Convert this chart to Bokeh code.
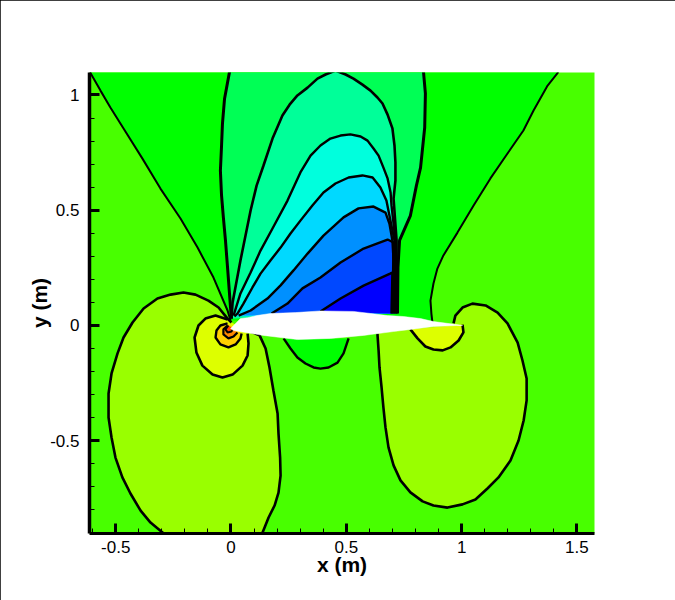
from bokeh.plotting import figure
from bokeh.models import FixedTicker
from bokeh.embed import file_html
from bokeh.resources import INLINE

x_major = [-0.5, 0, 0.5, 1, 1.5]
x_labels = ["-0.5", "0", "0.5", "1", "1.5"]
y_major = [-0.5, 0, 0.5, 1]
y_labels = ["-0.5", "0", "0.5", "1"]

green_left_x = [-0.612, -0.566, -0.523, -0.466, -0.384, -0.306, -0.219, -0.145, -0.076, -0.015, -0.002]
green_left_y = [1.100, 1.019, 0.946, 0.855, 0.724, 0.594, 0.464, 0.338, 0.208, 0.065, 0.022]
green_right_x = [0.875, 0.869, 0.865, 0.878, 0.895, 0.921, 0.982, 1.052, 1.125, 1.199, 1.268, 1.312, 1.373, 1.420]
green_right_y = [0.000, 0.052, 0.108, 0.182, 0.247, 0.304, 0.403, 0.521, 0.638, 0.746, 0.846, 0.933, 1.041, 1.100]

d1_x = [0.002, -0.002, -0.015, -0.024, -0.033, -0.041, -0.046, -0.041, -0.037, -0.028, -0.007, -0.005, 0.836, 0.835, 0.843, 0.840, 0.822, 0.804, 0.778, 0.731, 0.724, 0.722]
d1_y = [0.030, 0.078, 0.252, 0.369, 0.468, 0.564, 0.672, 0.780, 0.876, 0.984, 1.097, 1.110, 1.110, 1.097, 1.006, 0.859, 0.685, 0.607, 0.477, 0.369, 0.252, 0.052]
d2_x = [0.002, 0.007, 0.041, 0.085, 0.111, 0.141, 0.180, 0.223, 0.254, 0.288, 0.332, 0.375, 0.410, 0.453, 0.497, 0.531, 0.570, 0.605, 0.635, 0.657, 0.679, 0.700, 0.709, 0.713, 0.713, 0.705, 0.718, 0.718]
d2_y = [0.030, 0.100, 0.282, 0.499, 0.607, 0.694, 0.811, 0.911, 0.958, 0.998, 1.032, 1.071, 1.089, 1.106, 1.089, 1.071, 1.045, 1.019, 0.989, 0.963, 0.915, 0.855, 0.781, 0.707, 0.629, 0.551, 0.369, 0.052]
d3_x = [0.011, 0.041, 0.085, 0.128, 0.180, 0.245, 0.301, 0.345, 0.388, 0.431, 0.475, 0.518, 0.562, 0.592, 0.618, 0.640, 0.661, 0.679, 0.692, 0.696, 0.713, 0.713]
d3_y = [0.043, 0.139, 0.230, 0.325, 0.421, 0.542, 0.664, 0.737, 0.781, 0.811, 0.824, 0.829, 0.820, 0.802, 0.768, 0.737, 0.685, 0.638, 0.577, 0.521, 0.369, 0.052]
d4_x = [0.015, 0.028, 0.054, 0.093, 0.128, 0.171, 0.215, 0.258, 0.301, 0.353, 0.401, 0.453, 0.510, 0.570, 0.614, 0.648, 0.674, 0.687, 0.709, 0.709]
d4_y = [0.039, 0.052, 0.095, 0.165, 0.225, 0.282, 0.338, 0.399, 0.455, 0.521, 0.577, 0.616, 0.642, 0.651, 0.642, 0.599, 0.542, 0.477, 0.369, 0.052]
d5_x = [0.033, 0.085, 0.158, 0.215, 0.271, 0.332, 0.401, 0.488, 0.553, 0.618, 0.670, 0.687, 0.700, 0.705, 0.705]
d5_y = [0.043, 0.065, 0.117, 0.174, 0.239, 0.312, 0.390, 0.469, 0.508, 0.516, 0.490, 0.442, 0.369, 0.282, 0.052]
d6_x = [0.176, 0.245, 0.310, 0.388, 0.475, 0.575, 0.679, 0.705, 0.700]
d6_y = [0.052, 0.095, 0.161, 0.208, 0.273, 0.334, 0.373, 0.360, 0.052]
d7_x = [0.388, 0.475, 0.575, 0.690, 0.700, 0.696]
d7_y = [0.061, 0.117, 0.173, 0.225, 0.230, 0.052]

bulb_left_x = [0.002, -0.015, -0.054, -0.098, -0.154, -0.206, -0.262, -0.319, -0.379, -0.427, -0.466, -0.492, -0.518, -0.531, -0.531, -0.518, -0.501, -0.471, -0.436, -0.392, -0.349, -0.297, -0.275, 0.115, 0.137, 0.163, 0.189, 0.206, 0.215, 0.213, 0.206, 0.202, 0.184, 0.167, 0.150, 0.124, 0.085]
bulb_left_y = [0.013, 0.030, 0.078, 0.108, 0.134, 0.143, 0.134, 0.117, 0.074, 0.013, -0.052, -0.121, -0.208, -0.295, -0.399, -0.486, -0.573, -0.659, -0.729, -0.803, -0.855, -0.898, -0.920, -0.920, -0.898, -0.833, -0.781, -0.725, -0.651, -0.573, -0.469, -0.382, -0.282, -0.182, -0.100, -0.043, -0.026]
bulb_right_x = [0.635, 0.640, 0.644, 0.653, 0.661, 0.670, 0.683, 0.705, 0.735, 0.778, 0.831, 0.878, 0.939, 1.004, 1.060, 1.112, 1.160, 1.212, 1.247, 1.269, 1.282, 1.282, 1.264, 1.243, 1.199, 1.156, 1.104, 1.047, 1.004, 0.973, 0.965]
bulb_right_y = [-0.035, -0.108, -0.182, -0.269, -0.356, -0.442, -0.529, -0.607, -0.672, -0.724, -0.763, -0.781, -0.790, -0.776, -0.755, -0.707, -0.659, -0.586, -0.499, -0.412, -0.325, -0.230, -0.152, -0.074, 0.009, 0.056, 0.087, 0.095, 0.078, 0.043, 0.009]
te_x = [0.778, 0.809, 0.843, 0.878, 0.918, 0.952, 0.987, 1.008, 1.004]
te_y = [-0.017, -0.056, -0.091, -0.104, -0.108, -0.095, -0.065, -0.030, 0.004]
le2_x = [-0.015, -0.067, -0.111, -0.141, -0.158, -0.150, -0.124, -0.080, -0.037, 0.007, 0.050, 0.072, 0.076, 0.072]
le2_y = [0.026, 0.043, 0.030, 0.000, -0.052, -0.117, -0.174, -0.213, -0.226, -0.213, -0.174, -0.130, -0.078, -0.035]
le3_x = [-0.015, -0.046, -0.063, -0.067, -0.046, -0.011, 0.020, 0.041, 0.046]
le3_y = [0.009, 0.000, -0.022, -0.052, -0.082, -0.095, -0.082, -0.056, -0.035]
le4_x = [-0.015, -0.033, -0.033, -0.011, 0.011, 0.028]
le4_y = [0.000, -0.017, -0.039, -0.056, -0.048, -0.030]
le5_x = [-0.011, -0.024, -0.015, 0.002, 0.011]
le5_y = [0.000, -0.017, -0.030, -0.026, -0.013]
bump_x = [0.228, 0.258, 0.288, 0.323, 0.358, 0.388, 0.423, 0.462, 0.488, 0.510]
bump_y = [-0.056, -0.100, -0.139, -0.165, -0.182, -0.187, -0.182, -0.161, -0.121, -0.056]

wing_x = [-0.002, 0.024, 0.041, 0.072, 0.111, 0.171, 0.280, 0.388, 0.531, 0.605, 0.679, 0.748, 0.822, 0.878, 0.978, 1.004,
          0.978, 0.878, 0.778, 0.705, 0.605, 0.575, 0.431, 0.288, 0.141, 0.063, 0.011]
wing_y = [-0.013, 0.013, 0.030, 0.034, 0.043, 0.052, 0.056, 0.063, 0.061, 0.052, 0.043, 0.039, 0.030, 0.017, 0.004, 0.000,
          0.000, -0.004, -0.017, -0.026, -0.039, -0.043, -0.056, -0.061, -0.043, -0.030, -0.022]

p = figure(width=675, height=600, output_backend="svg", toolbar_location=None,
           x_range=(-0.6136, 1.5763), y_range=(-0.9024, 1.0976),
           min_border_left=89, min_border_top=72, min_border_right=81, min_border_bottom=67,
           background_fill_color="#48ff00", border_fill_color="white",
           outline_line_color=None, x_axis_label="x (m)", y_axis_label="y (m)",
           styles={"position": "absolute", "left": "0", "top": "0",
                   "outline": "1px solid black", "outline-offset": "-1px"})
p.grid.visible = False

green_x = green_left_x + green_right_x
green_y = green_left_y + green_right_y
fills = [
    (green_x, green_y, "#00ff00"),
    (d1_x, d1_y, "#00ff55"),
    (d2_x, d2_y, "#00ff99"),
    (d3_x, d3_y, "#00ffdd"),
    (d4_x, d4_y, "#00d9ff"),
    (d5_x, d5_y, "#0090ff"),
    (d6_x, d6_y, "#0048ff"),
    (d7_x, d7_y, "#0000ff"),
    (bump_x, bump_y, "#00ff00"),
    (bulb_left_x, bulb_left_y, "#99ff00"),
    (bulb_right_x, bulb_right_y, "#99ff00"),
    (te_x, te_y, "#ddff00"),
    (le2_x, le2_y, "#ddff00"),
    (le3_x, le3_y, "#ffd000"),
    (le4_x, le4_y, "#ff8800"),
    (le5_x, le5_y, "#ff4400"),
]
for fx, fy, c in fills:
    p.patch(fx, fy, fill_color=c, line_color=None)

lines = [
    (green_left_x, green_left_y, 2),
    (green_right_x, green_right_y, 2),
    (d1_x, d1_y, 3),
    (d2_x, d2_y, 2.6),
    (d3_x, d3_y, 2.4),
    (d4_x, d4_y, 2.4),
    (d5_x, d5_y, 2.4),
    (d6_x, d6_y, 2.4),
    (d7_x, d7_y, 2.4),
    (bump_x, bump_y, 2.4),
    (bulb_left_x, bulb_left_y, 2.6),
    (bulb_right_x, bulb_right_y, 2.6),
    (te_x, te_y, 2.6),
    (le2_x, le2_y, 2.6),
    (le3_x, le3_y, 2.4),
    (le4_x, le4_y, 2.2),
    (le5_x, le5_y, 2),
]
for lx, ly, w in lines:
    p.line(lx, ly, line_color="black", line_width=w)

p.patch(wing_x, wing_y, fill_color="white", line_color="white", line_width=0.5)

x_minor = [round(-0.6 + 0.1 * i, 1) for i in range(22)]
y_minor = [round(-0.9 + 0.1 * i, 1) for i in range(20)]
p.xaxis.ticker = FixedTicker(ticks=x_major, minor_ticks=x_minor)
p.yaxis.ticker = FixedTicker(ticks=y_major, minor_ticks=y_minor)
p.xaxis.major_label_overrides = dict(zip(x_major, x_labels))
p.yaxis.major_label_overrides = dict(zip(y_major, y_labels))
for ax, lw in ((p.xaxis, 3), (p.yaxis, 3.5)):
    ax.axis_line_color = "black"
    ax.axis_line_width = lw
    ax.major_tick_in = 10
    ax.major_tick_out = 0
    ax.minor_tick_in = 5
    ax.minor_tick_out = 0
    ax.major_tick_line_width = 3
    ax.minor_tick_line_width = 1
    ax.major_tick_line_color = "black"
    ax.minor_tick_line_color = "black"
    ax.major_label_text_font = "Liberation Sans"
    ax.major_label_text_font_size = "17px"
    ax.major_label_text_color = "black"
    ax.axis_label_text_font = "Liberation Sans"
    ax.axis_label_text_font_style = "bold"
    ax.axis_label_text_font_size = "21px"
    ax.axis_label_text_color = "black"
p.xaxis.major_label_standoff = 7
p.yaxis.major_label_standoff = 10
p.yaxis.major_label_orientation = "horizontal"
p.xaxis.axis_label_standoff = -3
p.yaxis.axis_label_standoff = -4

open("out.html", "w").write(file_html(p, INLINE))
